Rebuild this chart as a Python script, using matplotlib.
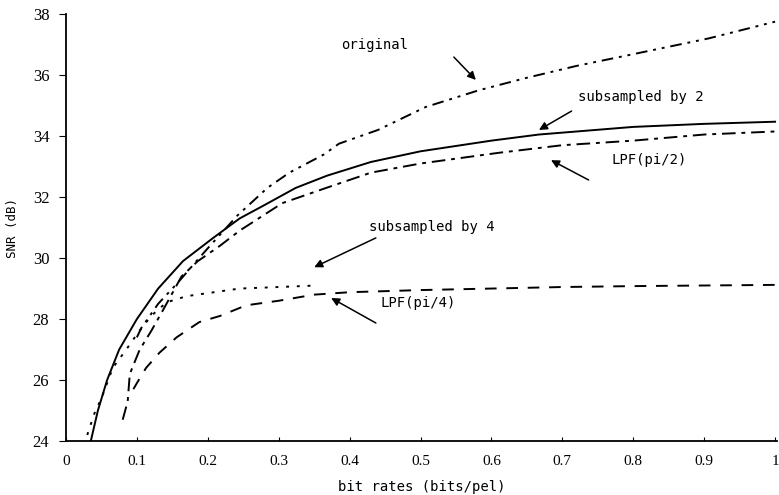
import matplotlib
matplotlib.use("Agg")
import matplotlib.pyplot as plt

# (bit rate in bits/pel, SNR in dB)
orig_x = [0.1, 0.106, 0.13, 0.158, 0.184, 0.203, 0.242, 0.284, 0.315, 0.364,
          0.385, 0.44, 0.507, 0.582, 0.648, 0.72, 0.803, 0.906, 1.0]
orig_y = [27.4, 27.7, 28.5, 29.2, 29.9, 30.4, 31.4, 32.3, 32.8, 33.4,
          33.75, 34.2, 34.95, 35.5, 35.9, 36.3, 36.7, 37.2, 37.75]

sub2_x = [0.035, 0.045, 0.058, 0.075, 0.1, 0.13, 0.165, 0.207, 0.245, 0.277,
          0.324, 0.368, 0.43, 0.5, 0.6, 0.667, 0.8, 0.9, 1.0]
sub2_y = [24.0, 25.0, 26.0, 27.0, 28.0, 29.0, 29.9, 30.65, 31.3, 31.7,
          32.3, 32.7, 33.15, 33.5, 33.85, 34.05, 34.3, 34.4, 34.47]

lpf2_x = [0.08, 0.087, 0.09, 0.104, 0.12, 0.137, 0.163, 0.186, 0.217, 0.245,
          0.305, 0.367, 0.43, 0.5, 0.61, 0.7, 0.8, 0.9, 1.0]
lpf2_y = [24.7, 25.3, 26.2, 27.0, 27.6, 28.3, 29.4, 29.9, 30.4, 30.9,
          31.8, 32.3, 32.8, 33.1, 33.45, 33.7, 33.85, 34.05, 34.15]

sub4_x = [0.03, 0.04, 0.05, 0.066, 0.085, 0.1, 0.12, 0.142, 0.17, 0.2,
          0.245, 0.3, 0.353]
sub4_y = [24.2, 24.9, 25.4, 26.4, 27.0, 27.5, 28.1, 28.55, 28.75, 28.85,
          29.0, 29.05, 29.1]

lpf4_x = [0.095, 0.1, 0.113, 0.132, 0.156, 0.188, 0.217, 0.254, 0.3, 0.35,
          0.4, 0.5, 0.6, 0.7, 0.8, 0.9, 1.0]
lpf4_y = [25.7, 25.9, 26.4, 26.9, 27.4, 27.9, 28.1, 28.45, 28.6, 28.8,
          28.88, 28.95, 29.0, 29.05, 29.08, 29.1, 29.12]

xticks = [0, 0.1, 0.2, 0.3, 0.4, 0.5, 0.6, 0.7, 0.8, 0.9, 1.0]
xticklabels = ["0", "0.1", "0.2", "0.3", "0.4", "0.5", "0.6", "0.7", "0.8", "0.9", "1"]
yticks = [24, 26, 28, 30, 32, 34, 36, 38]

# (label, text position, arrow start, arrow tip)
notes = [
    ("original", (0.435, 36.98), (0.547, 36.59), (0.578, 35.84)),
    ("subsampled by 2", (0.81, 35.28), (0.713, 34.82), (0.667, 34.2)),
    ("LPF(pi/2)", (0.823, 33.21), (0.737, 32.56), (0.684, 33.21)),
    ("subsampled by 4", (0.516, 31.02), (0.437, 30.66), (0.35, 29.7)),
    ("LPF(pi/4)", (0.496, 28.52), (0.437, 27.87), (0.374, 28.69)),
]

plt.rcParams["font.family"] = ["Liberation Serif", "DejaVu Serif"]
mono = "DejaVu Sans Mono"

fig = plt.figure(figsize=(7.79, 4.95), dpi=100)
ax = fig.add_axes([0.0847, 0.109, 0.913, 0.8626])

lw = 1.4
ax.plot(orig_x, orig_y, color="black", lw=lw, dashes=(6, 3, 1.5, 3, 1.5, 3))
ax.plot(sub2_x, sub2_y, color="black", lw=lw, linestyle="-")
ax.plot(lpf2_x, lpf2_y, color="black", lw=lw, dashes=(7, 3, 2, 3))
ax.plot(sub4_x, sub4_y, color="black", lw=lw, dashes=(1.5, 4))
ax.plot(lpf4_x, lpf4_y, color="black", lw=lw, dashes=(6, 5))

for label, txt, start, tip in notes:
    ax.text(txt[0], txt[1], label, fontsize=10, family=mono,
            ha="center", va="center")
    ax.annotate("", xy=tip, xytext=start,
                arrowprops=dict(arrowstyle="-|>", color="black", lw=1.1,
                                mutation_scale=12, shrinkA=0, shrinkB=0))

ax.set_xlim(0, 1.003)
ax.set_ylim(24, 38)
ax.spines["top"].set_visible(False)
ax.spines["right"].set_visible(False)
ax.spines["left"].set_linewidth(1.3)
ax.spines["bottom"].set_linewidth(1.3)
ax.set_xticks(xticks)
ax.set_xticklabels(xticklabels)
ax.set_yticks(yticks)
ax.tick_params(axis="x", direction="in", length=3, labelsize=11, pad=10)
ax.tick_params(axis="y", direction="out", length=5, labelsize=12, pad=7)
ax.set_xlabel("bit rates (bits/pel)", fontsize=10, family=mono, labelpad=9)
ax.set_ylabel("SNR (dB)", fontsize=9, family=mono, labelpad=10)

fig.savefig("out.png", dpi=100)
plt.close(fig)
